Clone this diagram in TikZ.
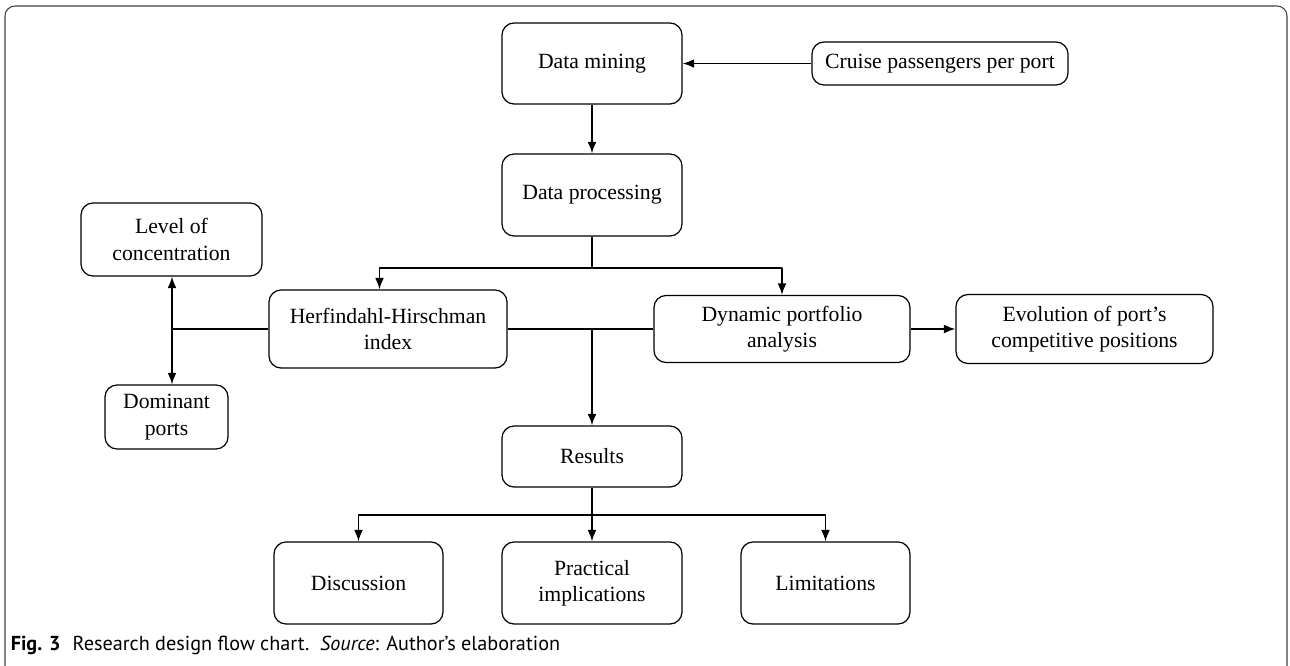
\documentclass[tikz,border=0pt]{standalone}
\usepackage{fontspec}
\setmainfont{Liberation Serif}
\newfontfamily\capfont{PT Sans}
\usetikzlibrary{arrows.meta}

\begin{document}
\begin{tikzpicture}[->,>={Latex[length=6.5pt,width=5pt]},line width=0.9pt,line join=bevel]
  \tikzstyle{stage}=[draw,rounded corners=0.24cm,line width=0.7pt,align=center,inner sep=0pt,font=\fontsize{12.35}{15}\selectfont]
  \useasboundingbox (0,0) rectangle (25.8,-13.3);
  % frame
  \draw[-,black!75,line width=0.6pt,rounded corners=0.2cm] (0.1,-13.4) -- (0.1,-0.12) -- (25.74,-0.12) -- (25.74,-13.4);
  \node[stage,minimum width=3.6cm,minimum height=1.62cm] (F_1) at (11.84,-1.27) {Data mining};
  \node[stage,minimum width=5.12cm,minimum height=0.86cm] (F_2) at (18.8,-1.27) {Cruise passengers per port};
  \node[stage,minimum width=3.6cm,minimum height=1.64cm] (F_3) at (11.84,-3.9) {Data processing};
  \node[stage,minimum width=3.62cm,minimum height=1.46cm] (F_4) at (3.43,-4.79) {Level of\\concentration};
  \node[stage,minimum width=4.76cm,minimum height=1.56cm] (F_5) at (7.76,-6.58) {Herfindahl-Hirschman\\index};
  \node[stage,minimum width=5.12cm,minimum height=1.34cm] (F_6) at (15.64,-6.58) {Dynamic portfolio\\analysis};
  \node[stage,minimum width=5.14cm,minimum height=1.38cm] (F_7) at (21.69,-6.58) {Evolution of port’s\\competitive positions};
  \node[stage,minimum width=2.46cm,minimum height=1.28cm] (F_8) at (3.33,-8.34) {Dominant\\ports};
  \node[stage,minimum width=3.6cm,minimum height=1.22cm] (F_9) at (11.84,-9.13) {Results};
  \node[stage,minimum width=3.38cm,minimum height=1.64cm] (F_10) at (7.17,-11.66) {Discussion};
  \node[stage,minimum width=3.6cm,minimum height=1.64cm] (F_11) at (11.84,-11.66) {Practical\\implications};
  \node[stage,minimum width=3.38cm,minimum height=1.64cm] (F_12) at (16.51,-11.66) {Limitations};
  % junctions
  \coordinate (J_1) at (11.84,-5.36);
  \coordinate (J_2) at (3.44,-6.58);
  \coordinate (J_3) at (11.84,-10.3);
  \draw (F_2) -- (F_1);
  \draw (F_1) -- (F_3);
  \draw[-] (F_3) -- (J_1);
  \draw (J_1) -| ([xshift=-0.17cm]F_5.north);
  \draw (J_1) -| (F_6.north);
  \draw[-] (F_5.east) -- (F_6.west);
  \draw[-] (F_5.west) -- (J_2);
  \draw (J_2) -- (J_2 |- F_4.south);
  \draw (J_2) -- (J_2 |- F_8.north);
  \draw (F_6) -- (F_7);
  \draw (F_9 |- F_5.east) -- (F_9);
  \draw[-] (F_9) -- (J_3);
  \draw (J_3) -| (F_10.north);
  \draw (J_3) -- (F_11);
  \draw (J_3) -| (F_12.north);
  \node[anchor=west,inner sep=0pt,font=\capfont\fontsize{11.5}{14}\selectfont] (C) at (0.2,-12.9)
    {\textbf{Fig. 3}\hspace{0.6em}Research design flow chart.\ \ \textit{Source}: Author’s elaboration};
\end{tikzpicture}
\end{document}
